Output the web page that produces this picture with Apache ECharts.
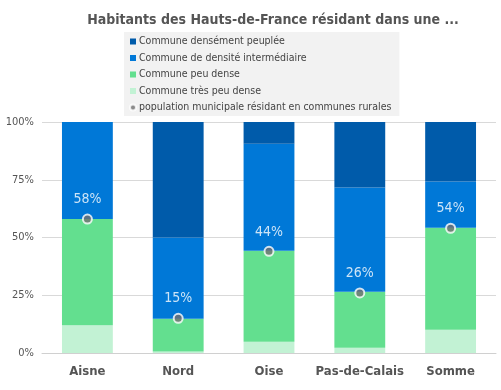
<!DOCTYPE html>
<html><head><meta charset="utf-8">
<script src="https://cdn.jsdelivr.net/npm/echarts@6/dist/echarts.min.js"></script>
<style>html,body{margin:0;padding:0;background:#fff}#c{width:501px;height:390px}</style>
</head><body><div id="c"></div>
<script>
const categories = ['Aisne','Nord','Oise','Pas-de-Calais','Somme'];
const tresPeuDense = [12, 0.6, 4.9, 2.3, 10.1];
const peuDense = [46, 14.2, 39.4, 24.2, 44.1];
const intermediaire = [42, 35.2, 46.3, 45.1, 20];
const densement = [0, 50, 9.4, 28.4, 25.8];
const rural = [58, 15, 44, 26, 54];
const yTicks = [0, 25, 50, 75, 100];

const font = '"DejaVu Sans Condensed", "DejaVu Sans", sans-serif';
const chart = echarts.init(document.getElementById('c'));
const barBase = {type:'bar', stack:'s', barWidth:'56%', emphasis:{disabled:true}};
chart.setOption({
  animation:false,
  title:{text:'Habitants des Hauts-de-France résidant dans une ...', left:268, textAlign:'center', top:8,
    textStyle:{fontFamily:font, fontWeight:'bold', fontSize:14, color:'#555'}},
  legend:{orient:'vertical', left:124, top:32, width:274, backgroundColor:'#f2f2f2', padding:[4,8,3,5],
    itemGap:5.5, itemWidth:6, itemHeight:6,
    textStyle:{fontFamily:font, fontSize:10.5, color:'#444', padding:[0,0,0,-2]},
    data:[
      {name:'Commune densément peuplée', icon:'rect'},
      {name:'Commune de densité intermédiaire', icon:'rect'},
      {name:'Commune peu dense', icon:'rect'},
      {name:'Commune très peu dense', icon:'rect'},
      {name:'population municipale résidant en communes rurales', icon:'circle', itemStyle:{color:'#707070'}}
    ]},
  grid:{left:42, right:5, top:122, bottom:37},
  xAxis:{type:'category', data:categories, axisTick:{show:false},
    axisLine:{lineStyle:{color:'#d0d0d0'}},
    axisLabel:{interval:0, fontFamily:font, fontWeight:'bold', fontSize:13, color:'#555', margin:12}},
  yAxis:{type:'value', min:yTicks[0], max:yTicks[yTicks.length-1], interval:25,
    axisLabel:{formatter:v=>v+'%', fontFamily:font, fontSize:11, color:'#555', margin:8},
    splitLine:{lineStyle:{color:'#d9d9d9'}}},
  series:[
    Object.assign({name:'Commune très peu dense', data:tresPeuDense, itemStyle:{color:'#c2f2d4'}}, barBase),
    Object.assign({name:'Commune peu dense', data:peuDense, itemStyle:{color:'#63df8f'}}, barBase),
    Object.assign({name:'Commune de densité intermédiaire', data:intermediaire, itemStyle:{color:'#0078d7'}}, barBase),
    Object.assign({name:'Commune densément peuplée', data:densement, itemStyle:{color:'#005baa'}}, barBase),
    {name:'population municipale résidant en communes rurales', type:'scatter', data:rural, symbolSize:9,
     itemStyle:{color:'#707070', borderColor:'#fff', borderWidth:2}, z:10,
     label:{show:true, position:'top', distance:7, formatter:p=>p.value+'%', color:'#fff', fontFamily:font, fontSize:14}}
  ]
});
</script></body></html>
